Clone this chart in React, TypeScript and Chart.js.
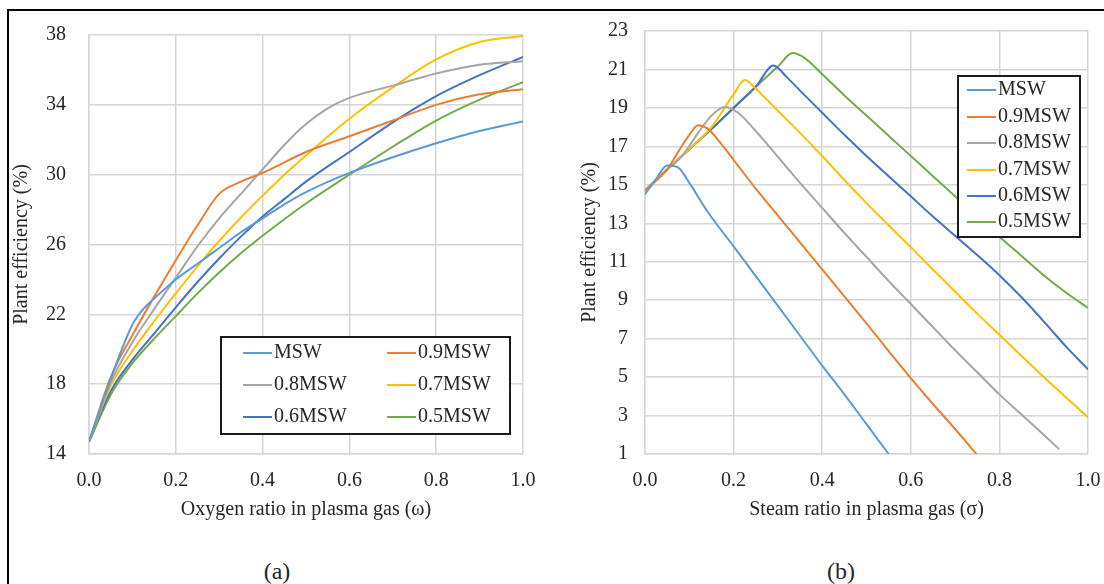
import React, { useEffect, useRef } from "react";
import { Chart, registerables } from "chart.js";

Chart.register(...registerables);

// ---------- shared ----------
const SERIES_NAMES = ["MSW", "0.9MSW", "0.8MSW", "0.7MSW", "0.6MSW", "0.5MSW"];
const SERIES_COLORS = ["#5B9BD5", "#ED7D31", "#A5A5A5", "#FFC000", "#4472C4", "#70AD47"];
const X_TICKS = [0, 0.2, 0.4, 0.6, 0.8, 1.0];

// ---------- (a) oxygen ratio ----------
const A_Y_TICKS = [14, 18, 22, 26, 30, 34, 38];
const A_MSW_X = [0, 0.05, 0.1, 0.125, 0.15, 0.2, 0.25, 0.3, 0.35, 0.4, 0.45, 0.5, 0.6, 0.7, 0.8, 0.9, 1.0];
const A_MSW_Y = [14.7, 18.3, 21.4, 22.3, 22.9, 24.0, 24.9, 25.8, 26.7, 27.5, 28.3, 29.0, 30.1, 31.0, 31.8, 32.5, 33.05];
const A_09_X = [0, 0.05, 0.1, 0.15, 0.2, 0.25, 0.3, 0.35, 0.4, 0.5, 0.6, 0.7, 0.8, 0.9, 1.0];
const A_09_Y = [14.7, 18.4, 20.8, 23.0, 25.1, 27.1, 28.9, 29.6, 30.1, 31.3, 32.2, 33.1, 34.0, 34.6, 34.9];
const A_08_X = [0, 0.05, 0.1, 0.15, 0.2, 0.25, 0.3, 0.35, 0.4, 0.45, 0.5, 0.55, 0.6, 0.7, 0.8, 0.9, 1.0];
const A_08_Y = [14.7, 18.1, 20.4, 22.3, 24.1, 25.9, 27.5, 28.9, 30.3, 31.7, 32.9, 33.8, 34.4, 35.1, 35.8, 36.3, 36.5];
const A_07_X = [0, 0.05, 0.1, 0.15, 0.2, 0.25, 0.3, 0.35, 0.4, 0.45, 0.5, 0.6, 0.7, 0.8, 0.9, 1.0];
const A_07_Y = [14.7, 17.9, 19.9, 21.6, 23.2, 24.75, 26.2, 27.55, 28.8, 30.0, 31.1, 33.2, 35.0, 36.6, 37.6, 37.95];
const A_06_X = [0, 0.05, 0.1, 0.15, 0.2, 0.25, 0.3, 0.35, 0.4, 0.45, 0.5, 0.6, 0.7, 0.8, 0.9, 1.0];
const A_06_Y = [14.7, 17.6, 19.4, 20.9, 22.4, 23.85, 25.2, 26.45, 27.6, 28.6, 29.6, 31.3, 33.0, 34.5, 35.7, 36.75];
const A_05_X = [0, 0.05, 0.1, 0.15, 0.2, 0.25, 0.3, 0.35, 0.4, 0.45, 0.5, 0.6, 0.7, 0.8, 0.9, 1.0];
const A_05_Y = [14.7, 17.4, 19.2, 20.6, 21.9, 23.2, 24.4, 25.5, 26.5, 27.45, 28.35, 30.0, 31.6, 33.1, 34.3, 35.3];

// ---------- (b) steam ratio ----------
const B_Y_TICKS = [1, 3, 5, 7, 9, 11, 13, 15, 17, 19, 21, 23];
const B_MSW_X = [0, 0.025, 0.05, 0.075, 0.1, 0.143, 0.2, 0.25, 0.3, 0.35, 0.4, 0.45, 0.5, 0.55];
const B_MSW_Y = [14.5, 15.3, 16.0, 15.9, 15.1, 13.55, 11.8, 10.25, 8.7, 7.15, 5.6, 4.1, 2.55, 1.0];
const B_09_X = [0, 0.05, 0.08, 0.1, 0.12, 0.14, 0.17, 0.2, 0.25, 0.3, 0.35, 0.4, 0.45, 0.5, 0.55, 0.6, 0.65, 0.7, 0.75];
const B_09_Y = [14.7, 15.8, 16.9, 17.6, 18.1, 17.95, 17.2, 16.3, 14.8, 13.4, 12.0, 10.6, 9.2, 7.8, 6.35, 4.95, 3.6, 2.3, 0.95];
const B_08_X = [0, 0.05, 0.08, 0.12, 0.15, 0.18, 0.21, 0.25, 0.3, 0.35, 0.4, 0.45, 0.5, 0.55, 0.6, 0.65, 0.7, 0.75, 0.8, 0.85, 0.9, 0.935];
const B_08_Y = [14.7, 15.8, 16.4, 17.7, 18.6, 19.05, 18.75, 17.8, 16.45, 15.1, 13.8, 12.5, 11.25, 10.0, 8.8, 7.6, 6.4, 5.25, 4.1, 3.05, 2.0, 1.25];
const B_07_X = [0, 0.05, 0.1, 0.15, 0.2, 0.225, 0.25, 0.3, 0.35, 0.4, 0.45, 0.5, 0.55, 0.6, 0.65, 0.7, 0.75, 0.8, 0.85, 0.9, 0.95, 1.0];
const B_07_Y = [14.7, 15.8, 16.85, 18.0, 19.7, 20.45, 20.0, 18.85, 17.7, 16.5, 15.25, 14.05, 12.9, 11.75, 10.6, 9.45, 8.3, 7.2, 6.1, 5.0, 3.95, 2.9];
const B_06_X = [0, 0.05, 0.1, 0.15, 0.2, 0.25, 0.29, 0.32, 0.35, 0.4, 0.45, 0.5, 0.55, 0.6, 0.65, 0.7, 0.75, 0.8, 0.85, 0.9, 0.95, 1.0];
const B_06_Y = [14.7, 15.8, 16.85, 17.9, 19.0, 20.1, 21.2, 20.6, 19.9, 18.75, 17.6, 16.5, 15.45, 14.4, 13.35, 12.35, 11.35, 10.3, 9.15, 7.9, 6.6, 5.4];
const B_05_X = [0, 0.05, 0.1, 0.15, 0.2, 0.25, 0.3, 0.333, 0.36, 0.4, 0.45, 0.5, 0.55, 0.6, 0.65, 0.7, 0.75, 0.8, 0.85, 0.9, 0.95, 1.0];
const B_05_Y = [14.7, 15.8, 16.85, 17.9, 19.0, 20.1, 21.15, 21.85, 21.6, 20.75, 19.65, 18.6, 17.55, 16.5, 15.45, 14.4, 13.35, 12.3, 11.3, 10.3, 9.4, 8.6];

const A_SERIES: [number[], number[]][] = [
  [A_MSW_X, A_MSW_Y], [A_09_X, A_09_Y], [A_08_X, A_08_Y],
  [A_07_X, A_07_Y], [A_06_X, A_06_Y], [A_05_X, A_05_Y],
];
const B_SERIES: [number[], number[]][] = [
  [B_MSW_X, B_MSW_Y], [B_09_X, B_09_Y], [B_08_X, B_08_Y],
  [B_07_X, B_07_Y], [B_06_X, B_06_Y], [B_05_X, B_05_Y],
];

const FONT_FAMILY = "'Liberation Serif', 'Times New Roman', serif";
const TEXT = "#262626";
const GRID = "#d6d6d6";

const boxLegendPlugin = {
  id: "boxLegend",
  afterDatasetsDraw(chart: any, _args: any, opts: any) {
    if (!opts || !opts.display) return;
    const ctx = chart.ctx as CanvasRenderingContext2D;
    const box = opts.box;
    const cols: number[] = opts.cols;
    const rows: number[] = opts.rows;
    ctx.save();
    ctx.fillStyle = "#ffffff";
    ctx.fillRect(box.left, box.top, box.right - box.left, box.bottom - box.top);
    ctx.strokeStyle = "#1a1a1a";
    ctx.lineWidth = 2;
    ctx.strokeRect(box.left, box.top, box.right - box.left, box.bottom - box.top);
    chart.data.datasets.forEach((ds: any, i: number) => {
      const c = i % cols.length;
      const r = Math.floor(i / cols.length);
      const x = cols[c];
      const y = rows[r];
      ctx.strokeStyle = ds.borderColor;
      ctx.lineWidth = 2;
      ctx.beginPath();
      ctx.moveTo(x, y);
      ctx.lineTo(x + opts.lineLen, y);
      ctx.stroke();
      ctx.fillStyle = TEXT;
      ctx.font = `20px ${FONT_FAMILY}`;
      ctx.textBaseline = "middle";
      ctx.textAlign = "left";
      ctx.fillText(ds.label, x + opts.lineLen + opts.gap, y);
    });
    ctx.restore();
  },
};

function makeConfig(
  series: [number[], number[]][],
  yTicks: number[],
  xTitle: string,
  yAxisWidth: number,
  yTitlePad: number,
  yTickPad: number,
  padRight: number,
  legend: any
): any {
  return {
    type: "line",
    data: {
      datasets: series.map(([xs, ys], i) => ({
        label: SERIES_NAMES[i],
        data: xs.map((x, j) => ({ x, y: ys[j] })),
        borderColor: SERIES_COLORS[i],
        backgroundColor: SERIES_COLORS[i],
        borderWidth: 2,
        pointRadius: 0,
        cubicInterpolationMode: "monotone",
        fill: false,
      })),
    },
    options: {
      responsive: false,
      maintainAspectRatio: false,
      animation: false,
      devicePixelRatio: 1,
      events: [],
      layout: { padding: { left: 0, top: 31, right: padRight, bottom: 18 } },
      plugins: {
        legend: { display: false },
        tooltip: { enabled: false },
        boxLegend: legend,
      },
      scales: {
        x: {
          type: "linear",
          min: X_TICKS[0],
          max: X_TICKS[X_TICKS.length - 1],
          afterBuildTicks: (s: any) => {
            s.ticks = X_TICKS.map((v) => ({ value: v }));
          },
          ticks: {
            padding: 15,
            color: TEXT,
            font: { size: 20, family: FONT_FAMILY },
            maxRotation: 0,
            autoSkip: false,
            callback: (v: any) => Number(v).toFixed(1),
          },
          grid: { color: GRID, lineWidth: 1.5, drawTicks: false },
          border: { display: true, color: GRID, width: 1.5 },
          title: {
            display: true,
            text: xTitle,
            color: TEXT,
            font: { size: 20, family: FONT_FAMILY },
            padding: { top: 0, bottom: 0 },
          },
          afterFit: (s: any) => {
            s.height = 68;
          },
        },
        y: {
          type: "linear",
          min: yTicks[0],
          max: yTicks[yTicks.length - 1],
          afterBuildTicks: (s: any) => {
            s.ticks = yTicks.map((v) => ({ value: v }));
          },
          ticks: {
            padding: yTickPad,
            color: TEXT,
            font: { size: 20, family: FONT_FAMILY },
            autoSkip: false,
            callback: (v: any) => String(v),
          },
          grid: { color: GRID, lineWidth: 1.5, drawTicks: false },
          border: { display: true, color: GRID, width: 1.5 },
          title: {
            display: true,
            text: "Plant efficiency (%)",
            color: TEXT,
            font: { size: 20, family: FONT_FAMILY },
            padding: { top: yTitlePad, bottom: 0 },
          },
          afterFit: (s: any) => {
            s.width = yAxisWidth;
          },
        },
      },
    },
    plugins: [boxLegendPlugin],
  };
}

export default function App() {
  const refA = useRef<HTMLCanvasElement>(null);
  const refB = useRef<HTMLCanvasElement>(null);

  useEffect(() => {
    const a = new Chart(
      refA.current!,
      makeConfig(A_SERIES, A_Y_TICKS, "Oxygen ratio in plasma gas (\u03c9)", 89, 10, 23, 29, {
        display: true,
        box: { left: 221, top: 337, right: 510, bottom: 434 },
        cols: [243, 387],
        rows: [353, 385, 417],
        lineLen: 29,
        gap: 2,
      })
    );
    const b = new Chart(
      refB.current!,
      makeConfig(B_SERIES, B_Y_TICKS, "Steam ratio in plasma gas (\u03c3)", 93, 26, 17, 34, {
        display: true,
        box: { left: 406, top: 76, right: 528, bottom: 237 },
        cols: [415],
        rows: [90, 117, 143, 170, 196, 222],
        lineLen: 29,
        gap: 2,
      })
    );
    return () => {
      a.destroy();
      b.destroy();
    };
  }, []);

  const capStyle: React.CSSProperties = {
    position: "absolute",
    width: 100,
    top: 557,
    height: 28,
    lineHeight: "28px",
    textAlign: "center",
    fontFamily: FONT_FAMILY,
    fontSize: 24,
    color: TEXT,
  };

  return (
    <div
      style={{
        position: "fixed",
        left: 0,
        top: 0,
        width: 1104,
        height: 584,
        background: "#ffffff",
        overflow: "hidden",
      }}
    >
      <div
        style={{
          position: "absolute",
          left: 7,
          top: 9,
          width: 1200,
          height: 700,
          borderTop: "2px solid #000",
          borderLeft: "2px solid #000",
        }}
      />
      <canvas
        ref={refA}
        width={552}
        height={540}
        style={{ position: "absolute", left: 0, top: 0, width: 552, height: 540 }}
      />
      <canvas
        ref={refB}
        width={570}
        height={540}
        style={{ position: "absolute", left: 552, top: 0, width: 570, height: 540 }}
      />
      <div style={{ ...capStyle, left: 277 - 50 }}>(a)</div>
      <div style={{ ...capStyle, left: 841 - 50 }}>(b)</div>
    </div>
  );
}
